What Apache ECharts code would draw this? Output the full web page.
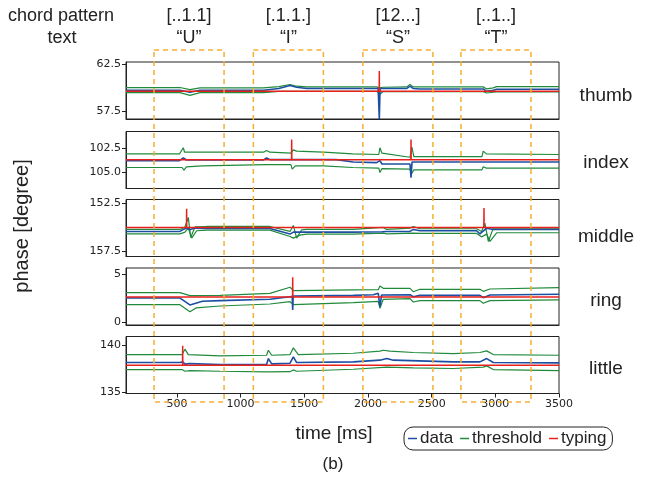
<!DOCTYPE html>
<html>
<head>
<meta charset="utf-8">
<script src="https://cdn.jsdelivr.net/npm/echarts@6/dist/echarts.min.js"></script>
<style>
html, body { margin: 0; padding: 0; background: #fff; }
#chart { width: 660px; height: 479px; }
</style>
</head>
<body>
<div id="chart"></div>
<script>
// chords typed, time windows in ms
const chordPatterns = ['[..1.1]', '[.1.1.]', '[12...]', '[..1..]'];
const chordTexts = ['\u201cU\u201d', '\u201cI\u201d', '\u201cS\u201d', '\u201cT\u201d'];
const chordStart = [320, 1100, 1960, 2730];
const chordEnd = [870, 1650, 2510, 3280];

const fingers = ['thumb', 'index', 'middle', 'ring', 'little'];
const xTicks = [500, 1000, 1500, 2000, 2500, 3000, 3500];
const yTicks = [[57.5, 62.5], [102.5, 105.0], [152.5, 157.5], [0, 5], [135, 140]];
const yTickLabels = [['57.5', '62.5'], ['102.5', '105.0'], ['152.5', '157.5'], ['0', '5'], ['135', '140']];
const yMin = [56.7, 100.86, 152.12, -0.28, 134.9];
const yMax = [62.75, 106.61, 158.1, 5.66, 140.92];
const yInverse = [false, true, true, false, false];

// thumb
const thumbData = [[100, 59.75], [524, 59.75], [602, 59.54], [681, 59.75], [1178, 59.75], [1300, 59.93], [1388, 60.25], [1440, 60.07], [1518, 59.93], [2080, 59.93], [2089, 56.7], [2095, 59.93], [2303, 59.93], [2330, 60.18], [2356, 59.93], [2408, 59.89], [2905, 59.89], [2932, 59.64], [2984, 59.75], [3010, 59.86], [3500, 59.86]];
const thumbUpper = [[100, 60.04], [524, 60.04], [602, 59.82], [681, 60.0], [1178, 60.0], [1300, 60.14], [1388, 60.36], [1440, 60.18], [1518, 60.11], [2068, 60.11], [2089, 60.0], [2120, 60.07], [2303, 60.11], [2330, 60.36], [2356, 60.11], [2905, 60.11], [2932, 59.89], [2984, 60.0], [3010, 60.14], [3500, 60.14]];
const thumbLower = [[100, 59.5], [524, 59.5], [602, 59.21], [681, 59.5], [1178, 59.5], [1300, 59.64], [2068, 59.64], [2095, 59.36], [2120, 59.61], [2905, 59.61], [2932, 59.46], [2984, 59.54], [3010, 59.57], [3500, 59.57]];
const thumbTyping = [[100, 59.64], [2088, 59.64], [2089, 61.79], [2090, 59.64], [3500, 59.64]];

// index
const indexData = [[100, 103.8], [520, 103.8], [550, 103.53], [575, 103.73], [1180, 103.73], [1204, 103.53], [1230, 103.7], [1395, 103.7], [1401, 103.9], [1410, 103.7], [1750, 103.7], [1885, 103.94], [2068, 104.0], [2094, 103.8], [2110, 104.14], [2330, 104.14], [2338, 105.51], [2346, 103.94], [3500, 103.94]];
const indexUpper = [[100, 103.12], [520, 103.12], [550, 102.5], [560, 102.95], [575, 102.84], [1180, 102.95], [1204, 102.77], [1230, 102.95], [1395, 103.05], [1414, 102.71], [1440, 102.84], [1650, 102.95], [1880, 103.12], [2085, 103.18], [2094, 102.5], [2110, 103.05], [2330, 103.46], [2345, 102.43], [2360, 103.39], [2895, 103.39], [2905, 102.84], [2930, 103.12], [3500, 103.18]];
const indexLower = [[100, 104.49], [540, 104.49], [555, 104.76], [575, 104.42], [700, 104.32], [1200, 104.21], [1395, 104.21], [1405, 104.66], [1430, 104.32], [1650, 104.32], [1880, 104.49], [2085, 104.55], [2094, 105.0], [2110, 104.6], [2330, 104.66], [2340, 105.17], [2360, 104.73], [2895, 104.73], [2905, 104.42], [2930, 104.55], [3500, 104.55]];
const indexTyping = [[100, 103.7], [1400, 103.7], [1401, 101.68], [1402, 103.7], [2337, 103.7], [2338, 101.68], [2339, 103.7], [3500, 103.7]];

// middle
const middleData = [[100, 155.47], [524, 155.47], [550, 155.26], [576, 155.12], [600, 155.3], [640, 155.12], [733, 155.16], [1230, 155.16], [1388, 155.75], [1414, 155.54], [1885, 155.54], [2110, 155.5], [2120, 155.3], [2147, 155.47], [2330, 155.47], [2356, 155.26], [2408, 155.4], [2853, 155.4], [2879, 155.72], [2932, 155.12], [2984, 155.26], [3500, 155.26]];
const middleUpper = [[100, 155.26], [524, 155.26], [563, 155.0], [589, 154.0], [608, 156.1], [642, 155.0], [733, 154.95], [1230, 154.95], [1388, 155.47], [1414, 154.84], [1440, 156.17], [1479, 155.3], [1518, 155.26], [1885, 155.26], [2120, 155.05], [2147, 155.26], [2330, 155.12], [2356, 154.95], [2408, 155.19], [2853, 155.19], [2892, 155.47], [2918, 154.6], [2945, 156.52], [2984, 155.12], [3500, 155.12]];
const middleLower = [[100, 155.72], [524, 155.72], [563, 155.54], [589, 155.12], [616, 156.17], [655, 155.4], [733, 155.33], [1230, 155.33], [1388, 156.0], [1414, 156.17], [1466, 155.86], [1518, 155.75], [1885, 155.75], [2120, 155.64], [2147, 155.72], [2356, 155.64], [2408, 155.68], [2853, 155.68], [2892, 156.04], [2932, 155.75], [2958, 156.52], [3010, 155.61], [3500, 155.61]];
const middleTyping = [[100, 155.05], [575, 155.05], [576, 153.09], [577, 155.05], [2910, 155.05], [2911, 153.02], [2912, 155.05], [3500, 155.05]];

// ring
const ringData = [[100, 2.53], [524, 2.53], [602, 1.81], [700, 2.2], [838, 2.26], [1230, 2.4], [1388, 2.67], [1405, 2.7], [1409, 1.28], [1413, 2.74], [1885, 2.81], [2042, 2.88], [2081, 3.02], [2094, 1.6], [2107, 2.85], [2330, 2.88], [2356, 2.67], [2408, 2.81], [2879, 2.81], [2905, 2.57], [2958, 2.85], [3500, 2.92]];
const ringUpper = [[100, 3.09], [524, 3.09], [602, 2.78], [838, 2.81], [1230, 3.02], [1388, 3.65], [1414, 3.3], [1885, 3.37], [2081, 3.4], [2094, 3.78], [2120, 3.54], [2330, 3.54], [2356, 3.19], [2408, 3.44], [2879, 3.44], [2905, 3.23], [2958, 3.47], [3500, 3.61]];
const ringLower = [[100, 1.84], [524, 1.84], [602, 1.11], [650, 1.5], [838, 1.7], [1230, 1.91], [1388, 2.15], [1414, 1.84], [1885, 2.05], [2081, 2.19], [2094, 1.46], [2120, 2.4], [2330, 2.47], [2356, 2.12], [2408, 2.26], [2879, 2.26], [2905, 1.98], [2958, 2.26], [3500, 2.33]];
const ringTyping = [[100, 2.64], [1408, 2.64], [1409, 4.69], [1410, 2.64], [3500, 2.64]];

// little
const littleData = [[100, 138.17], [524, 138.17], [545, 138.24], [563, 138.0], [602, 138.06], [838, 137.96], [1204, 137.96], [1218, 138.59], [1244, 138.03], [1388, 138.1], [1414, 138.77], [1440, 138.17], [1885, 138.24], [2094, 138.42], [2147, 138.59], [2199, 138.42], [2670, 138.24], [2879, 138.24], [2932, 138.59], [2984, 138.17], [3500, 138.13]];
const littleUpper = [[100, 139.01], [540, 139.01], [563, 139.58], [589, 139.01], [838, 138.87], [1204, 138.94], [1218, 139.47], [1244, 138.94], [1388, 139.01], [1414, 139.72], [1453, 139.01], [1885, 139.15], [2094, 139.37], [2120, 139.47], [2173, 139.37], [2356, 139.23], [2670, 139.12], [2879, 139.23], [2932, 139.4], [2984, 139.01], [3500, 138.94]];
const littleLower = [[100, 137.43], [540, 137.43], [563, 137.25], [602, 137.32], [838, 137.25], [1204, 137.18], [1388, 137.2], [1414, 137.39], [1440, 137.25], [1885, 137.46], [2147, 137.68], [2356, 137.61], [2670, 137.54], [2905, 137.68], [2932, 137.82], [2984, 137.43], [3500, 137.32]];
const littleTyping = [[100, 137.89], [544, 137.89], [545, 139.93], [546, 137.89], [3500, 137.89]];

const panelData = [thumbData, indexData, middleData, ringData, littleData];
const panelUpper = [thumbUpper, indexUpper, middleUpper, ringUpper, littleUpper];
const panelLower = [thumbLower, indexLower, middleLower, ringLower, littleLower];
const panelTyping = [thumbTyping, indexTyping, middleTyping, ringTyping, littleTyping];

const BLUE = '#1c4fa3';
const GREEN = '#1f8a3b';
const RED = '#e8211d';
const ORANGE = '#f6ae33';
const INK = '#222';
const FONT = '"Liberation Sans", Arial, sans-serif';

const gridTops = [62, 131.5, 199.5, 268, 336.5];
const labelY = [96, 163, 237, 301, 369];

const chartElement = document.getElementById('chart');
const myChart = echarts.init(chartElement);

const grids = [];
const xAxes = [];
const yAxes = [];
const series = [];

fingers.forEach((finger, i) => {
    const last = i === fingers.length - 1;
    grids.push({
        left: 126, width: 433, top: gridTops[i], height: 57,
        show: true, borderColor: INK, borderWidth: 1,
    });
    xAxes.push({
        type: 'value', gridIndex: i, min: 100, max: 3500,
        splitLine: {show: false},
        axisLine: {show: true, onZero: false, lineStyle: {color: INK, width: 1}},
        axisTick: {show: last, customValues: xTicks, length: 4, lineStyle: {color: INK}},
        axisLabel: {
            show: last, customValues: xTicks, margin: 5,
            fontSize: 11, fontFamily: '"DejaVu Sans"', color: INK,
            formatter: (v) => String(v),
        },
    });
    yAxes.push({
        type: 'value', gridIndex: i, min: yMin[i], max: yMax[i], inverse: yInverse[i],
        splitLine: {show: false},
        axisLine: {show: true, onZero: false, lineStyle: {color: INK, width: 1}},
        axisTick: {show: true, customValues: yTicks[i], length: 4, lineStyle: {color: INK}},
        axisLabel: {
            customValues: yTicks[i], margin: 5,
            fontSize: 11, fontFamily: '"DejaVu Sans"', color: INK,
            formatter: (v) => {
                const k = yTicks[i].findIndex((t) => Math.abs(t - v) < 1e-6);
                return k >= 0 ? yTickLabels[i][k] : '';
            },
        },
    });

    const common = {
        type: 'line', xAxisIndex: i, yAxisIndex: i,
        showSymbol: false, symbol: 'none', silent: true, animation: false,
    };
    series.push({...common, name: 'threshold', data: panelUpper[i],
        lineStyle: {color: GREEN, width: 1.2}, itemStyle: {color: GREEN}});
    series.push({...common, name: 'threshold', data: panelLower[i],
        lineStyle: {color: GREEN, width: 1.2}, itemStyle: {color: GREEN}});
    series.push({...common, name: 'data', data: panelData[i],
        lineStyle: {color: BLUE, width: 1.6}, itemStyle: {color: BLUE}});
    series.push({...common, name: 'typing', data: panelTyping[i],
        lineStyle: {color: RED, width: 1.5}, itemStyle: {color: RED}});
});

const option = {
    animation: false,
    grid: grids,
    xAxis: xAxes,
    yAxis: yAxes,
    series,
    legend: {
        data: ['data', 'threshold', 'typing'],
        left: 404, top: 427,
        padding: [3, 6, 3, 4],
        itemGap: 7, itemWidth: 9, itemHeight: 1.5,
        icon: 'rect',
        borderColor: INK, borderWidth: 1, borderRadius: 9,
        selectedMode: false,
        textStyle: {fontSize: 17, fontFamily: FONT, color: INK, padding: [0, 0, 0, -2]},
    },
};

myChart.setOption(option);

//
// Chord windows and labels, placed through the x scale
//
const txt = (text, x, y, size, extra) => ({
    type: 'text', x, y, silent: true, z: 110,
    style: Object.assign({
        text, fill: INK, font: size + 'px ' + FONT,
        textAlign: 'center', textVerticalAlign: 'middle',
        align: 'center', verticalAlign: 'middle',
    }, extra || {}),
});

const graphics = [];
chordStart.forEach((start, k) => {
    const x0 = myChart.convertToPixel({xAxisIndex: 0}, start);
    const x1 = myChart.convertToPixel({xAxisIndex: 0}, chordEnd[k]);
    graphics.push({
        type: 'rect', silent: true, z: 100,
        shape: {x: x0, y: 50, width: x1 - x0, height: 352},
        style: {fill: null, stroke: ORANGE, lineWidth: 1.5, lineDash: [5, 4]},
    });
    graphics.push(txt(chordPatterns[k], (x0 + x1) / 2, 16, 18));
    graphics.push(txt(chordTexts[k], (x0 + x1) / 2, 38, 18));
});

graphics.push(txt('chord pattern', 61, 16, 18));
graphics.push(txt('text', 62, 38, 18));
fingers.forEach((finger, i) => graphics.push(txt(finger, 606, labelY[i], 19)));
graphics.push(txt('time [ms]', 334, 434, 19));
graphics.push(txt('(b)', 333, 464, 17));
graphics.push(Object.assign(txt('phase [degree]', 22, 226, 20), {rotation: Math.PI / 2}));

myChart.setOption({graphic: graphics});
</script>
</body>
</html>
